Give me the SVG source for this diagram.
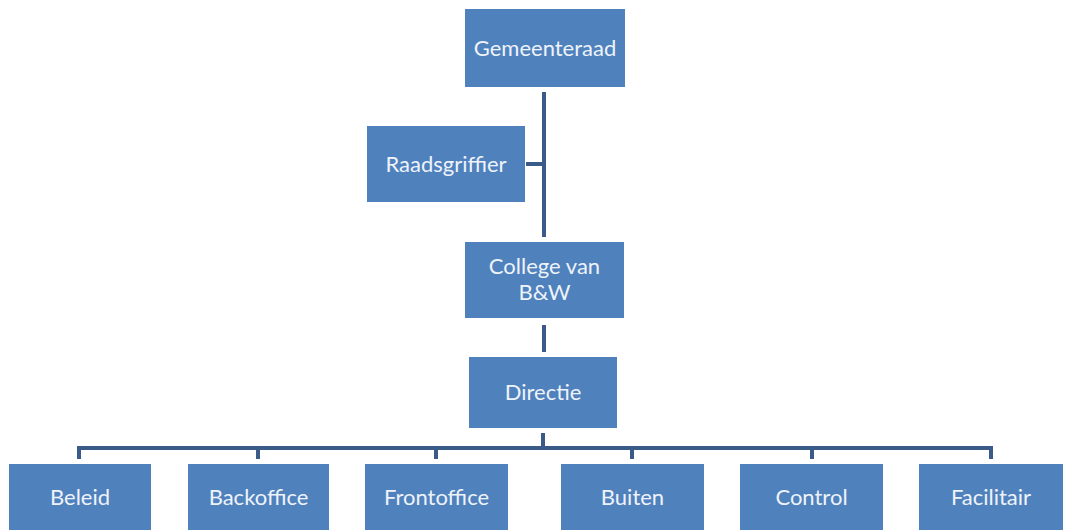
<svg xmlns="http://www.w3.org/2000/svg" width="1068" height="530" viewBox="0 0 1068 530">
<style>
.box{fill:#4F81BD}
.t{font-family:Lato,"Open Sans","Liberation Sans",sans-serif;font-size:22px;fill:#EEF3FA;text-anchor:middle}
.c{stroke:#3A5B88;stroke-width:4;fill:none}
</style>
<rect width="1068" height="530" fill="#FFFFFF"/>
<g id="connectors">
<path class="c" d="M544 92V237M526 164H544M544 325V352M543 433V448M79 448H991M79 446V459M258 446V459M436 446V459M632 446V459M812 446V459M991 446V459"/>
</g>
<g id="gemeenteraad"><rect class="box" x="465" y="9" width="160" height="78"/><text class="t" x="545" y="56">Gemeenteraad</text></g>
<g id="raadsgriffier"><rect class="box" x="367" y="126" width="158" height="76"/><text class="t" x="446" y="172">Raadsgriffier</text></g>
<g id="college"><rect class="box" x="465" y="242" width="159" height="76"/><text class="t" x="544.5" y="274">College van</text><text class="t" x="544.5" y="300">B&amp;W</text></g>
<g id="directie"><rect class="box" x="469" y="357" width="148" height="71"/><text class="t" x="543" y="400">Directie</text></g>
<g id="beleid"><rect class="box" x="9" y="464" width="142" height="66"/><text class="t" x="80" y="505">Beleid</text></g>
<g id="backoffice"><rect class="box" x="188" y="464" width="141" height="66"/><text class="t" x="258.5" y="505">Backoffice</text></g>
<g id="frontoffice"><rect class="box" x="365" y="464" width="143" height="66"/><text class="t" x="436.5" y="505">Frontoffice</text></g>
<g id="buiten"><rect class="box" x="561" y="464" width="143" height="66"/><text class="t" x="632.5" y="505">Buiten</text></g>
<g id="control"><rect class="box" x="740" y="464" width="143" height="66"/><text class="t" x="811.5" y="505">Control</text></g>
<g id="facilitair"><rect class="box" x="919" y="464" width="144" height="66"/><text class="t" x="991" y="505">Facilitair</text></g>
</svg>
